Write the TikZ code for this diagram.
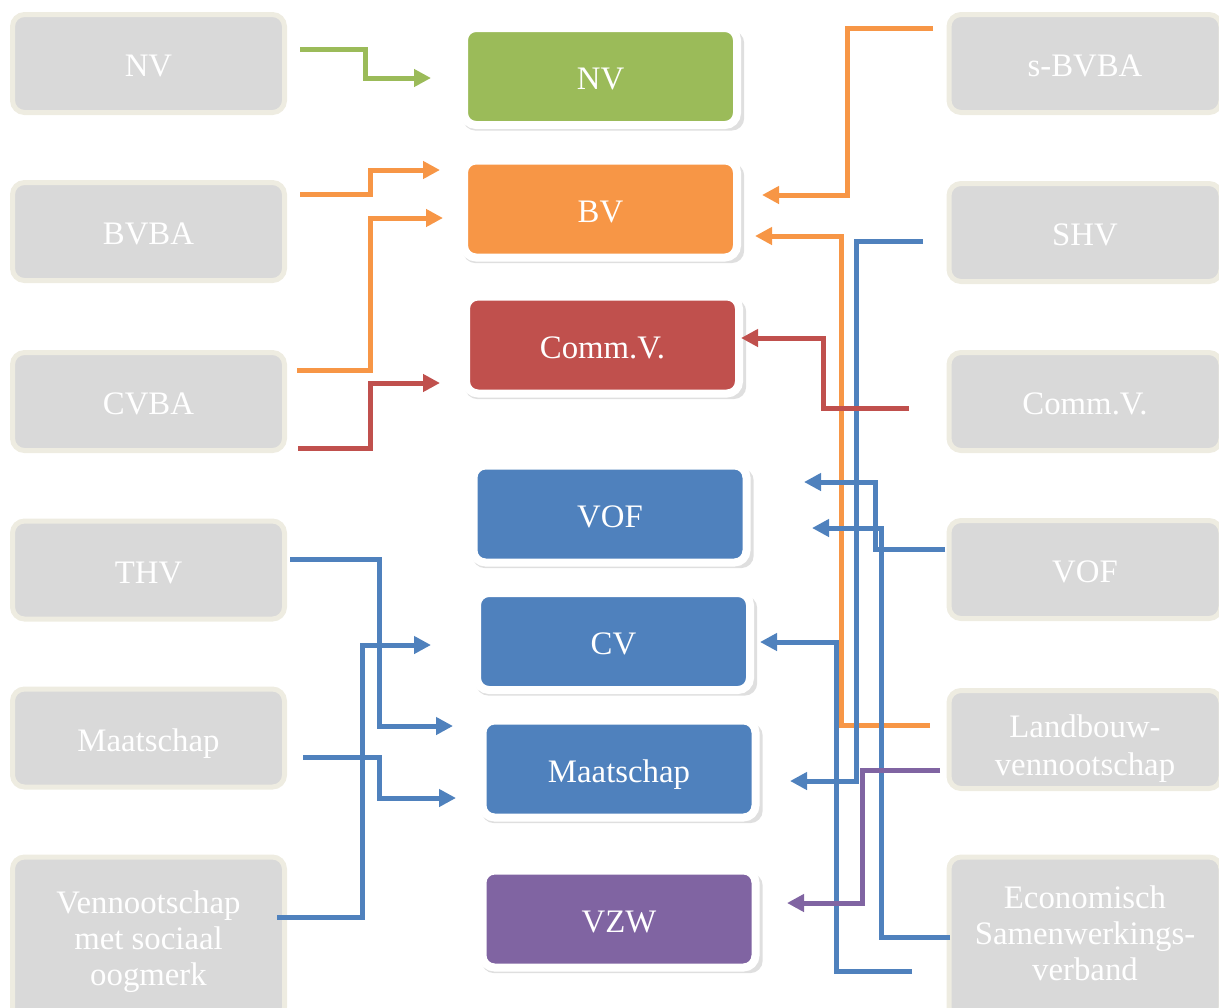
\documentclass[tikz,border=0pt]{standalone}
\usepackage{fontspec}
\setmainfont{Liberation Serif}
\usetikzlibrary{arrows.meta,shadows}

\definecolor{boxgray}{HTML}{D9D9D9}
\definecolor{boxcream}{HTML}{EEECE1}
\definecolor{formgreen}{HTML}{9BBB59}
\definecolor{formorange}{HTML}{F79646}
\definecolor{formred}{HTML}{C0504D}
\definecolor{formblue}{HTML}{4F81BD}
\definecolor{formpurple}{HTML}{8064A2}

\begin{document}
\begin{tikzpicture}[x=0.5pt,y=-0.5pt,
	oldform/.style={ draw=boxcream, line width=2.5pt, fill=boxgray, rounded corners=6pt, minimum width=136pt, minimum height=49pt, inner sep=0pt, align=center, text=white, font=\fontsize{16.4}{18}\selectfont, text height=15pt, text depth=1.6pt },
	oldform3/.style={ oldform, minimum height=81pt, text height={}, text depth={} },
	newform/.style={ draw=white, line width=4pt, rounded corners=6pt, minimum width=136.5pt, minimum height=48.5pt, inner sep=0pt, align=center, text=white, font=\fontsize{16.4}{18}\selectfont, text height=15pt, text depth=1.6pt, drop shadow={shadow xshift=1.5pt, shadow yshift=-2pt, shadow scale=1.03, opacity=.25} },
	link/.style={ line width=2.5pt, -{Triangle[length=8.5pt,width=8.5pt]} }
]
\useasboundingbox (0,0) rectangle (1219,1007);

% old forms, left
\node at (148.5,63.5) (lnv) [oldform] {NV};
\node at (148.5,231.5) (lbvba) [oldform] {BVBA};
\node at (148.5,401.5) (lcvba) [oldform] {CVBA};
\node at (148.5,570) (lthv) [oldform] {THV};
\node at (148.5,738) (lmaat) [oldform] {Maatschap};
\node at (148.5,938) (lvso) [oldform3,text depth=0pt] {Vennootschap\\met sociaal\\oogmerk};

% old forms, right
\node at (1085,63.5) (rsbvba) [oldform] {s-BVBA};
\node at (1085,232.5) (rshv) [oldform] {SHV};
\node at (1085,401.5) (rcomm) [oldform] {Comm.V.};
\node at (1085,569.5) (rvof) [oldform] {VOF};
\node at (1085,739.5) (rland) [oldform,text height=39.5pt,text depth=3.5pt] {Landbouw-\\[1pt]vennootschap};
\node at (1085,938) (recon) [oldform3,text depth=5pt] {Economisch\\Samenwerkings-\\verband};

% new forms
\node at (600.5,76.5) (cnv) [newform,fill=formgreen] {NV};
\node at (600.5,209) (cbv) [newform,fill=formorange] {BV};
\node at (602.5,345) (ccomm) [newform,fill=formred] {Comm.V.};
\node at (610,514) (cvof) [newform,fill=formblue] {VOF};
\node at (613.5,641.5) (ccv) [newform,fill=formblue] {CV};
\node at (619,769) (cmaat) [newform,fill=formblue] {Maatschap};
\node at (619,919) (cvzw) [newform,fill=formpurple] {VZW};

% left side
\draw[link,formgreen] ([shift={(13,-14.5)}]lnv.east) -- ++(65,0) |- ([shift={(-29,1.5)}]cnv.west);
\draw[link,formorange] ([shift={(13,-37.5)}]lbvba.east) -- ++(70,0) |- ([shift={(-20,-39)}]cbv.west);
\draw[link,formorange] ([shift={(10,-31.5)}]lcvba.east) -- ++(73,0) |- ([shift={(-17,9)}]cbv.west);
\draw[link,formred] ([shift={(11,46.5)}]lcvba.east) -- ++(72,0) |- ([shift={(-22,38)}]ccomm.west);
\draw[link,formblue] ([shift={(3,-11)}]lthv.east) -- ++(89,0) |- ([shift={(-25.5,-43)}]cmaat.west);
\draw[link,formblue] ([shift={(16,19)}]lmaat.east) -- ++(76,0) |- ([shift={(-22.5,29)}]cmaat.west);
\draw[link,formblue] ([shift={(-10,-21)}]lvso.east) -- ++(85,0) |- ([shift={(-42,3.5)}]ccv.west);

% right side
\draw[link,formorange] ([shift={(-13.5,-35.5)}]rsbvba.west) -- ++(-86,0) |- ([shift={(21,-14)}]cbv.east);
\draw[link,formorange] ([shift={(-16.5,-14.5)}]rland.west) -- ++(-89,0) |- ([shift={(14,27)}]cbv.east);
\draw[link,formblue] ([shift={(-23.5,8.5)}]rshv.west) -- ++(-67,0) |- ([shift={(30.5,12)}]cmaat.east);
\draw[link,formred] ([shift={(-37.5,6.5)}]rcomm.west) -- ++(-86,0) |- ([shift={(-2,-7)}]ccomm.east);
\draw[link,formblue] ([shift={(-1.5,-20.5)}]rvof.west) -- ++(-70,0) |- ([shift={(53.5,-32)}]cvof.east);
\draw[link,formblue] ([shift={(3.5,-1)}]recon.west) -- ++(-69,0) |- ([shift={(61.5,14)}]cvof.east);
\draw[link,formblue] ([shift={(-34.5,33)}]recon.west) -- ++(-76,0) |- ([shift={(6,0.5)}]ccv.east);
\draw[link,formpurple] ([shift={(-6.5,30.5)}]rland.west) -- ++(-78,0) |- ([shift={(27.5,-16)}]cvzw.east);

\end{tikzpicture}
\end{document}
